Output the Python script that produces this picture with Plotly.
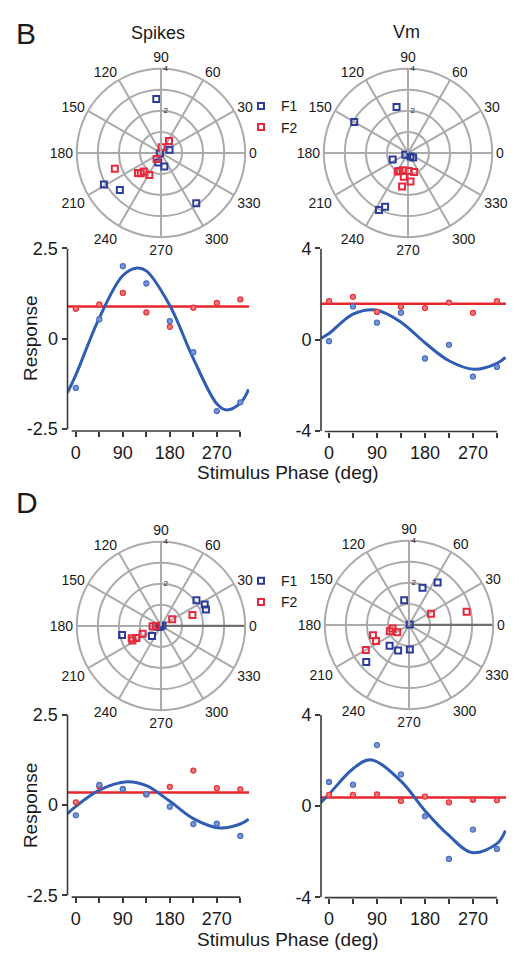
import plotly.graph_objects as go

W, H = 519, 962

# ---------------- data ----------------
phase = [0, 45, 90, 135, 180, 225, 270, 315]
x_tick_text = ["0", "", "90", "", "180", "", "270", ""]

# Panel B, spikes
b_spk_blue = [-1.36, 0.54, 2.01, 1.53, 0.49, -0.37, -2.00, -1.76]
b_spk_red = [0.83, 0.95, 1.27, 0.73, 0.33, 0.86, 0.99, 1.09]
b_spk_red_mean = 0.89
b_spk_fit_phase = [-16, 0, 45, 90, 117, 135, 180, 225, 270, 288, 315, 331]
b_spk_fit = [-1.49, -1.00, 0.58, 1.75, 1.96, 1.88, 0.92, -0.55, -1.80, -1.97, -1.78, -1.40]

# Panel B, Vm
b_vm_blue = [-0.06, 1.46, 0.75, 1.18, -0.82, -0.22, -1.61, -1.19]
b_vm_red = [1.69, 1.88, 1.22, 1.45, 1.39, 1.63, 1.18, 1.69]
b_vm_red_mean = 1.58
b_vm_fit_phase = [-15, 0, 45, 88, 135, 180, 225, 272, 315, 331]
b_vm_fit = [0.06, 0.27, 1.12, 1.30, 0.77, -0.13, -0.92, -1.29, -1.03, -0.77]

# Panel D, spikes
d_spk_blue = [-0.29, 0.55, 0.44, 0.30, -0.05, -0.53, -0.52, -0.86]
d_spk_red = [0.07, 0.51, 0.43, 0.29, 0.50, 0.95, 0.46, 0.43]
d_spk_red_mean = 0.34
d_spk_fit_phase = [-16, 0, 45, 98, 135, 180, 225, 276, 315, 331]
d_spk_fit = [-0.24, -0.04, 0.41, 0.64, 0.53, 0.10, -0.38, -0.64, -0.53, -0.40]

# Panel D, Vm
d_vm_blue = [1.06, 0.94, 2.68, 1.39, -0.45, -2.32, -1.03, -1.88]
d_vm_red = [0.49, 0.49, 0.51, 0.23, 0.42, 0.16, 0.28, 0.26]
d_vm_red_mean = 0.38
d_vm_fit_phase = [-15, 0, 45, 78, 135, 180, 225, 268, 315, 331]
d_vm_fit = [0.16, 0.52, 1.64, 2.04, 1.10, -0.20, -1.29, -2.04, -1.65, -1.07]

# Polar F1 / F2 components (amplitude, phase in deg)
b_spk_f1_r = [2.57, 0.43, 0.06, 0.47, 0.66, 3.10, 2.63, 2.92]
b_spk_f1_t = [95, 20, 200, 254, 284, 209, 222, 305]
b_spk_f2_r = [0.68, 0.27, 0.36, 2.32, 1.45, 1.20, 1.18, 1.36]
b_spk_f2_t = [56, 83, 234, 199, 221, 227, 242, 225]

b_vm_f1_r = [2.25, 2.95, 0.79, 0.15, 0.20, 0.32, 3.04, 2.78]
b_vm_f1_t = [104, 150, 203, 212, 305, 319, 243, 247]
b_vm_f2_r = [0.95, 0.86, 0.86, 0.95, 1.15, 1.36, 1.62, 1.01]
b_vm_f2_t = [245, 254, 272, 288, 260, 275, 260, 241]

d_spk_f1_r = [2.08, 2.31, 2.27, 1.90, 0.64, 0.05, 0.07, 0.12]
d_spk_f1_t = [36, 26, 20, 193, 228, 200, 14, 203]
d_spk_f2_r = [1.58, 0.62, 0.40, 0.95, 1.30, 1.52, 1.51, 0.24]
d_spk_f2_t = [19, 31, 182, 203, 206, 207, 203, 180]

d_vm_f1_r = [1.88, 2.43, 1.19, 0.04, 1.35, 1.32, 1.17, 2.69]
d_vm_f1_t = [70, 56, 101, 30, 227, 247, 272, 221]
d_vm_f2_r = [2.81, 1.17, 1.78, 1.74, 2.37, 0.80, 0.96, 0.66]
d_vm_f2_t = [13, 27, 196, 206, 210, 192, 198, 212]

spk_ticks = [-2.5, 0, 2.5]
vm_ticks = [-4, 0, 4]
radial_ticks = [1, 2, 3, 4]
radial_text = ["", "2", "", "4"]

# ---------------- styling ----------------
FONT = "Liberation Sans, Arial, sans-serif"
TXT = "#1a1a1a"
AX = "#3a3a3a"
GRID = "#ababab"
F1_SQ = "#2c3c9c"
F2_SQ = "#e8283c"
BLUE_LINE = "#2f5db4"
RED_LINE = "#e8262b"
BLUE_DOT = "#4a70c2"
RED_DOT = "#e8343a"


def fx(px):
    return px / W


def fy(px):
    return 1 - px / H


fig = go.Figure()

# ---------------- polar panels ----------------
polar_specs = [
    ("polar", 161, 146, b_spk_f1_r, b_spk_f1_t, b_spk_f2_r, b_spk_f2_t, None, False),
    ("polar2", 408, 146, b_vm_f1_r, b_vm_f1_t, b_vm_f2_r, b_vm_f2_t, "legend", False),
    ("polar3", 161, 629, d_spk_f1_r, d_spk_f1_t, d_spk_f2_r, d_spk_f2_t, None, True),
    ("polar4", 409, 628, d_vm_f1_r, d_vm_f1_t, d_vm_f2_r, d_vm_f2_t, "legend2", True),
]
R_PX = 86
for name, cx, cy, r1, t1, r2, t2, leg, zero_ray in polar_specs:
    if zero_ray:
        # darker reference ray along 0 deg
        fig.add_trace(go.Scatterpolar(
            r=[0, radial_ticks[-1]], theta=[0, 0], mode="lines", subplot=name,
            line=dict(color="#707070", width=2.2), showlegend=False, hoverinfo="skip"))
    for r, t, col, lab in ((r1, t1, F1_SQ, "F1"), (r2, t2, F2_SQ, "F2")):
        fig.add_trace(go.Scatterpolar(
            r=r, theta=t, mode="markers", subplot=name, name=lab,
            marker=dict(symbol="square-open", size=6, color=col,
                        line=dict(width=2, color=col)),
            showlegend=leg is not None, legend=leg if leg else "legend",
            hoverinfo="skip",
        ))
    fig.layout[name] = dict(
        domain=dict(x=[fx(cx - R_PX), fx(cx + R_PX)], y=[fy(cy + R_PX), fy(cy - R_PX)]),
        bgcolor="rgba(0,0,0,0)",
        angularaxis=dict(
            rotation=0, direction="counterclockwise",
            tickmode="array", tickvals=list(range(0, 360, 30)),
            ticktext=[str(v) for v in range(0, 360, 30)],
            ticks="", showline=True, linecolor=GRID, linewidth=2,
            gridcolor=GRID, gridwidth=2,
            tickfont=dict(size=14, color=TXT, family=FONT),
        ),
        radialaxis=dict(
            range=[0, radial_ticks[-1]], tickmode="array", tickvals=radial_ticks,
            ticktext=radial_text, angle=90, tickangle=90,
            ticks="", showline=True, linecolor=GRID, linewidth=2,
            gridcolor=GRID, gridwidth=2,
            tickfont=dict(size=8, color=TXT, family=FONT),
        ),
    )

# ---------------- cartesian panels ----------------
cart_specs = [
    # axis suffix, x px domain, y px domain, x range, y range, ticks, data
    ("", (67.5, 249.2), (243.5, 430), [-16, 332], [-2.554, 2.5], spk_ticks,
     b_spk_blue, b_spk_red, b_spk_red_mean, b_spk_fit_phase, b_spk_fit),
    ("2", (321, 506), (243.5, 430.5), [-15, 332], [-4.02, 4], vm_ticks,
     b_vm_blue, b_vm_red, b_vm_red_mean, b_vm_fit_phase, b_vm_fit),
    ("3", (67.5, 249.2), (719.5, 906), [-16, 332], [-2.554, 2.5], spk_ticks,
     d_spk_blue, d_spk_red, d_spk_red_mean, d_spk_fit_phase, d_spk_fit),
    ("4", (321, 506), (720, 906.5), [-15, 332], [-4.02, 4], vm_ticks,
     d_vm_blue, d_vm_red, d_vm_red_mean, d_vm_fit_phase, d_vm_fit),
]

shapes = []
for sfx, xd, yd, xr, yr, yt, blue, red, red_mean, fit_x, fit_y in cart_specs:
    xa, ya = "x" + sfx, "y" + sfx
    fig.add_trace(go.Scatter(
        x=[xr[0], xr[1]], y=[red_mean, red_mean], mode="lines",
        line=dict(color=RED_LINE, width=2.5), xaxis=xa, yaxis=ya,
        showlegend=False, hoverinfo="skip"))
    fig.add_trace(go.Scatter(
        x=fit_x, y=fit_y, mode="lines", line=dict(color=BLUE_LINE, width=3, shape="spline"),
        xaxis=xa, yaxis=ya, showlegend=False, hoverinfo="skip"))
    fig.add_trace(go.Scatter(
        x=phase, y=red, mode="markers", xaxis=xa, yaxis=ya, showlegend=False,
        marker=dict(size=5, color="#f07a7c", line=dict(width=1.3, color=RED_DOT))))
    fig.add_trace(go.Scatter(
        x=phase, y=blue, mode="markers", xaxis=xa, yaxis=ya, showlegend=False,
        marker=dict(size=5, color="#7a97d4", line=dict(width=1.3, color=BLUE_DOT))))

    fig.layout["xaxis" + sfx] = dict(
        domain=[fx(xd[0]), fx(xd[1])], range=xr, anchor=ya,
        tickmode="array", tickvals=phase, ticktext=x_tick_text,
        ticks="outside", ticklen=5, tickwidth=1.5, tickcolor=AX,
        showline=False, showgrid=False, zeroline=False,
        tickfont=dict(size=18, color=TXT, family=FONT),
    )
    fig.layout["yaxis" + sfx] = dict(
        domain=[fy(yd[1]), fy(yd[0])], range=yr, anchor=xa,
        tickmode="array", tickvals=yt, ticktext=[f"{v:g}" for v in yt],
        ticks="outside", ticklen=5, tickwidth=1.5, tickcolor=AX,
        showline=False, showgrid=False, zeroline=False,
        tickfont=dict(size=18, color=TXT, family=FONT),
    )
    # offset axis lines
    shapes.append(dict(type="line", xref=xa, yref=ya + " domain",
                       x0=-8, x1=phase[-1], y0=0, y1=0,
                       line=dict(color=AX, width=1.6)))
    shapes.append(dict(type="line", xref=xa + " domain", yref=ya,
                       x0=0, x1=0, y0=yt[0], y1=yt[-1],
                       line=dict(color=AX, width=1.6)))

# ---------------- text ----------------
annotations = []


def label(text, x, y, size, angle=0, xanchor="center", yanchor="middle"):
    annotations.append(dict(text=text, x=fx(x), y=fy(y), xref="paper", yref="paper",
                            showarrow=False, textangle=angle, xanchor=xanchor,
                            yanchor=yanchor, font=dict(size=size, color=TXT, family=FONT)))


label("B", 14, 24, 30, xanchor="left")
label("D", 14, 503, 30, xanchor="left")
label("Spikes", 158, 23, 18)
label("Vm", 406, 22, 18)
for cy in (335, 812):
    label("Response", 30, cy, 19, angle=-90)
for cy in (472, 949):
    label("Stimulus Phase (deg)", 288, cy, 19)

legend_style = dict(
    xanchor="left", yanchor="top", bgcolor="rgba(0,0,0,0)", borderwidth=0,
    font=dict(size=14, color=TXT, family=FONT), tracegroupgap=0,
    itemclick=False, itemdoubleclick=False,
)

fig.update_layout(
    width=W, height=H, margin=dict(l=0, r=0, t=0, b=0),
    paper_bgcolor="white", plot_bgcolor="white",
    font=dict(family=FONT, color=TXT),
    shapes=shapes, annotations=annotations,
    legend=dict(x=fx(241), y=fy(82), **legend_style),
    legend2=dict(x=fx(241), y=fy(567), **legend_style),
)

fig.write_html("out.html")
